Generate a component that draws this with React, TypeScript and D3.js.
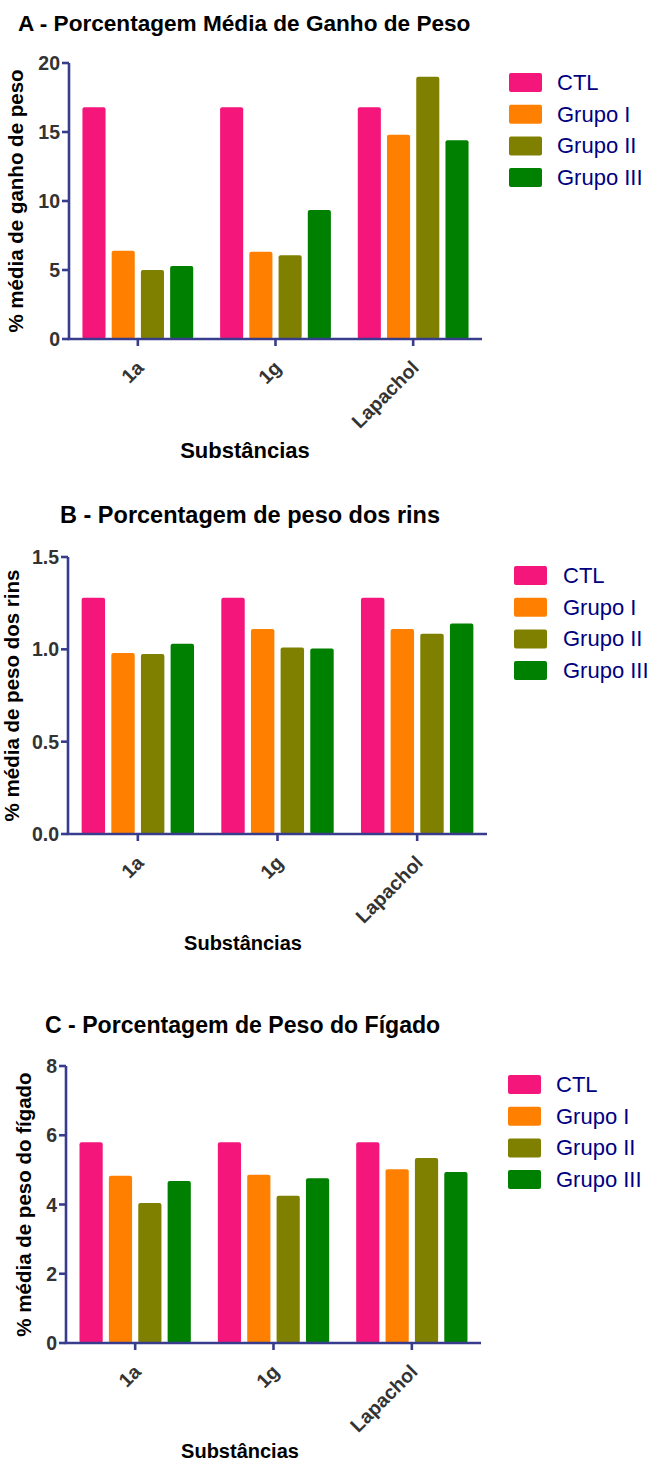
import React from "react";
import * as d3 from "d3";

// Categories and series shared by the three panels
const substancias = ["1a", "1g", "Lapachol"];
const grupos = ["CTL", "Grupo I", "Grupo II", "Grupo III"];
const cores = ["#F5167C", "#FF8000", "#808000", "#008000"];

// A - % média de ganho de peso (per group, in order 1a, 1g, Lapachol)
const ganhoCTL = [16.8, 16.8, 16.8];
const ganhoG1 = [6.4, 6.33, 14.8];
const ganhoG2 = [5.0, 6.06, 19.0];
const ganhoG3 = [5.29, 9.35, 14.4];
const ganhoTicks = [0, 5, 10, 15, 20];

// B - % média de peso dos rins
const rinsCTL = [1.28, 1.28, 1.28];
const rinsG1 = [0.98, 1.11, 1.11];
const rinsG2 = [0.975, 1.01, 1.085];
const rinsG3 = [1.03, 1.005, 1.14];
const rinsTicks = [0, 0.5, 1.0, 1.5];

// C - % média de peso do fígado
const figadoCTL = [5.8, 5.8, 5.8];
const figadoG1 = [4.83, 4.86, 5.02];
const figadoG2 = [4.04, 4.25, 5.34];
const figadoG3 = [4.68, 4.76, 4.94];
const figadoTicks = [0, 2, 4, 6, 8];

const AXIS = "#383C8C";
const TICK_TEXT = "#333333";
const FONT = "'Liberation Sans', Arial, Helvetica, sans-serif";

type PanelProps = {
  title: string;
  titleX: number;
  titleY: number;
  titleSize: number;
  yLabel: string;
  yLabelX: number;
  xLabelX: number;
  xLabelY: number;
  xLabelSize: number;
  x0: number;
  x1: number;
  yTop: number;
  yBottom: number;
  domainMax: number;
  ticks: number[];
  tickFormat: string;
  series: number[][];
  legendX: number;
  legendY: number;
  legendTextX: number;
};

function Panel(p: PanelProps) {
  const x = d3.scaleBand<string>().domain(substancias).range([p.x0, p.x1]).padding(0);
  const xi = d3
    .scaleBand<string>()
    .domain(grupos)
    .range([0, x.bandwidth()])
    .paddingInner(0.21)
    .paddingOuter(0.46);
  const y = d3.scaleLinear().domain([0, p.domainMax]).range([p.yBottom, p.yTop]);
  const fmt = d3.format(p.tickFormat);
  const yMid = (p.yTop + p.yBottom) / 2;

  return (
    <g>
      <text x={p.titleX} y={p.titleY} fontSize={p.titleSize} fontWeight="bold" fill="#000">
        {p.title}
      </text>

      {/* bars */}
      {substancias.map((s, ci) => (
        <g key={s}>
          {grupos.map((g, gi) => {
            const v = p.series[gi][ci];
            return (
              <rect
                key={g}
                x={(x(s) as number) + (xi(g) as number)}
                y={y(v)}
                width={xi.bandwidth()}
                height={y(0) - y(v)}
                rx={2}
                fill={cores[gi]}
              />
            );
          })}
        </g>
      ))}

      {/* y axis */}
      <line x1={p.x0} x2={p.x0} y1={y(p.domainMax)} y2={y(0)} stroke={AXIS} strokeWidth={2.6} />
      {p.ticks.map((t) => (
        <g key={t}>
          <line x1={p.x0 - 7} x2={p.x0} y1={y(t)} y2={y(t)} stroke={AXIS} strokeWidth={2.6} />
          <text
            x={p.x0 - 9}
            y={y(t)}
            dy="0.36em"
            textAnchor="end"
            fontSize={19.5}
            fontWeight="bold"
            fill={TICK_TEXT}
          >
            {fmt(t)}
          </text>
        </g>
      ))}

      {/* x axis */}
      <line x1={p.x0 - 1.3} x2={p.x1} y1={y(0)} y2={y(0)} stroke={AXIS} strokeWidth={2.6} />
      {substancias.map((s) => {
        const cx = (x(s) as number) + x.bandwidth() / 2;
        return (
          <g key={s}>
            <line x1={cx} x2={cx} y1={y(0)} y2={y(0) + 7} stroke={AXIS} strokeWidth={2.6} />
            <text
              transform={`translate(${cx + 7},${y(0) + 30}) rotate(-45)`}
              textAnchor="end"
              fontSize={19.5}
              fontWeight="bold"
              fill={TICK_TEXT}
            >
              {s}
            </text>
          </g>
        );
      })}

      {/* axis titles */}
      <text
        transform={`translate(${p.yLabelX},${yMid}) rotate(-90)`}
        textAnchor="middle"
        fontSize={20.5}
        fontWeight="bold"
        fill="#000"
      >
        {p.yLabel}
      </text>
      <text
        x={p.xLabelX}
        y={p.xLabelY}
        textAnchor="middle"
        fontSize={p.xLabelSize}
        fontWeight="bold"
        fill="#000"
      >
        Substâncias
      </text>

      {/* legend */}
      {grupos.map((g, gi) => (
        <g key={g}>
          <rect
            x={p.legendX}
            y={p.legendY + gi * 31.7}
            width={33}
            height={19}
            rx={2}
            fill={cores[gi]}
          />
          <text
            x={p.legendTextX}
            y={p.legendY + gi * 31.7 + 17}
            fontSize={22}
            fill="#000080"
          >
            {g}
          </text>
        </g>
      ))}
    </g>
  );
}

export default function App() {
  return (
    <svg
      width={649}
      height={1461}
      style={{ position: "absolute", left: 0, top: 0, background: "#fff" }}
      fontFamily={FONT}
    >
      <rect width={649} height={1461} fill="#fff" />
      <Panel
        title="A - Porcentagem Média de Ganho de Peso"
        titleX={18}
        titleY={31}
        titleSize={22.6}
        yLabel="% média de ganho de peso"
        yLabelX={23}
        xLabelX={245}
        xLabelY={458}
        xLabelSize={22}
        x0={69}
        x1={482}
        yTop={63}
        yBottom={339}
        domainMax={20}
        ticks={ganhoTicks}
        tickFormat="d"
        series={[ganhoCTL, ganhoG1, ganhoG2, ganhoG3]}
        legendX={509}
        legendY={73}
        legendTextX={557}
      />
      <Panel
        title="B - Porcentagem de peso dos rins"
        titleX={60}
        titleY={523}
        titleSize={23.5}
        yLabel="% média de peso dos rins"
        yLabelX={19}
        xLabelX={243}
        xLabelY={950}
        xLabelSize={20}
        x0={68}
        x1={487}
        yTop={557}
        yBottom={834}
        domainMax={1.5}
        ticks={rinsTicks}
        tickFormat=".1f"
        series={[rinsCTL, rinsG1, rinsG2, rinsG3]}
        legendX={514}
        legendY={566}
        legendTextX={563}
      />
      <Panel
        title="C - Porcentagem de Peso do Fígado"
        titleX={45}
        titleY={1033}
        titleSize={23.1}
        yLabel="% média de peso do fígado"
        yLabelX={31}
        xLabelX={240}
        xLabelY={1458}
        xLabelSize={20}
        x0={66}
        x1={481}
        yTop={1066}
        yBottom={1343}
        domainMax={8}
        ticks={figadoTicks}
        tickFormat="d"
        series={[figadoCTL, figadoG1, figadoG2, figadoG3]}
        legendX={508}
        legendY={1075}
        legendTextX={556}
      />
    </svg>
  );
}
